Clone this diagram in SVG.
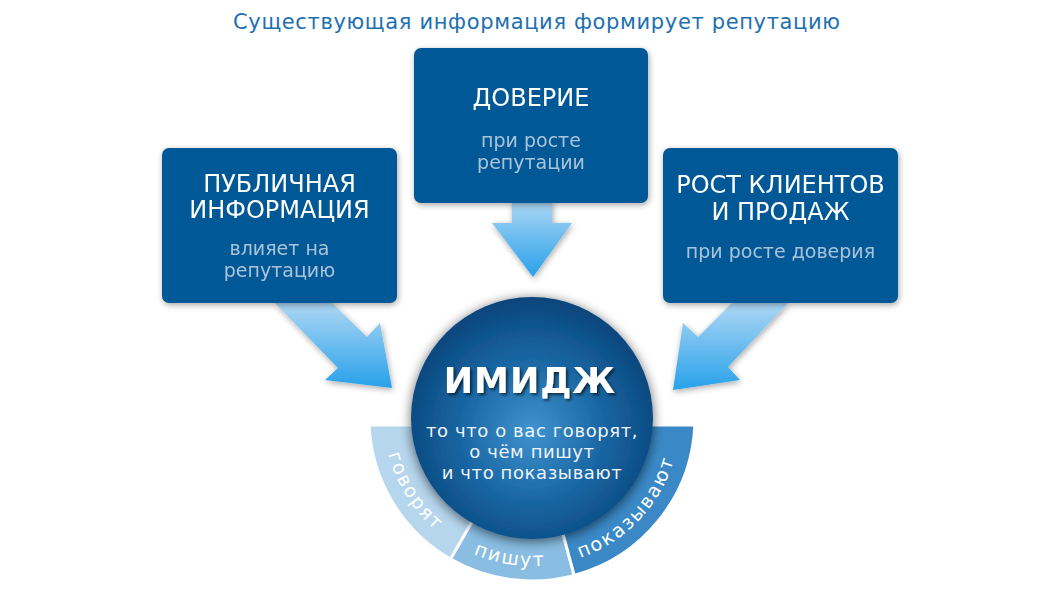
<svg xmlns="http://www.w3.org/2000/svg" width="1060" height="593" viewBox="0 0 1060 593">
  <defs>
    <style>
      .ttl { font-family: "DejaVu Sans", "Liberation Sans", sans-serif; font-size: 21px; fill: #1d70b0; }
      .bt { font-family: "DejaVu Sans", "Liberation Sans", sans-serif; font-size: 24px; fill: #ffffff; text-anchor: middle; }
      .bs { font-family: "DejaVu Sans", "Liberation Sans", sans-serif; font-size: 19px; fill: #a9c3da; text-anchor: middle; }
      .box { fill: #065996; }
      .arrow { fill: url(#arrowGrad); }
      .main { font-family: "DejaVu Sans", "Liberation Sans", sans-serif; font-size: 35px; font-weight: bold; fill: #ffffff; text-anchor: middle; letter-spacing: 1px; }
      .sub { font-family: "DejaVu Sans", "Liberation Sans", sans-serif; font-size: 18px; letter-spacing: 0.6px; fill: #eef4fa; text-anchor: middle; }
      .ring { font-family: "DejaVu Sans", "Liberation Sans", sans-serif; font-size: 19px; fill: #ffffff; letter-spacing: 2px; text-anchor: middle; }
      .seg { stroke: #ffffff; stroke-width: 3; }
    </style>
    <linearGradient id="arrowGrad" x1="0" y1="0" x2="0" y2="1">
      <stop offset="0" stop-color="#aed7f4"/>
      <stop offset="1" stop-color="#27a1ea"/>
    </linearGradient>
    <radialGradient id="circGrad" cx="0.5" cy="0.55" r="0.55">
      <stop offset="0" stop-color="#3f93cf"/>
      <stop offset="0.55" stop-color="#1865a2"/>
      <stop offset="1" stop-color="#0a457b"/>
    </radialGradient>
    <filter id="shadow" x="-20%" y="-20%" width="140%" height="140%">
      <feGaussianBlur in="SourceAlpha" stdDeviation="3"/>
      <feOffset dx="1" dy="2" result="b"/>
      <feComponentTransfer><feFuncA type="linear" slope="0.35"/></feComponentTransfer>
      <feMerge><feMergeNode/><feMergeNode in="SourceGraphic"/></feMerge>
    </filter>
    <filter id="cshadow" x="-20%" y="-20%" width="140%" height="140%">
      <feGaussianBlur in="SourceAlpha" stdDeviation="6"/>
      <feOffset dx="0" dy="2" result="b"/>
      <feComponentTransfer><feFuncA type="linear" slope="0.6"/></feComponentTransfer>
      <feMerge><feMergeNode/><feMergeNode in="SourceGraphic"/></feMerge>
    </filter>
    <filter id="tshadow" x="-10%" y="-30%" width="120%" height="160%">
      <feGaussianBlur in="SourceAlpha" stdDeviation="1.5"/>
      <feOffset dx="1.5" dy="2"/>
      <feComponentTransfer><feFuncA type="linear" slope="0.6"/></feComponentTransfer>
      <feMerge><feMergeNode/><feMergeNode in="SourceGraphic"/></feMerge>
    </filter>
    <path id="ringPath" d="M 384.09,423.17 A 148 148 0 0 0 679.91,423.17"/>
  </defs>

  <rect width="1060" height="593" fill="#ffffff"/>

  <text class="ttl" x="233" y="29" textLength="607" lengthAdjust="spacing">Существующая информация формирует репутацию</text>

  <g id="connectors" filter="url(#shadow)">
    <polygon class="arrow" points="275,303 332,303 367,337 380,323 392,388 325,380 338,368"/>
    <polygon class="arrow" points="512,200 552,200 552,223 572,223 533,277 492,223 512,223"/>
    <polygon class="arrow" points="732,303 788,303 728,367 740,380 673,390 683,323 698,337"/>
  </g>

  <g id="node-public" filter="url(#shadow)">
    <rect class="box" x="162" y="148" width="235" height="155" rx="7"/>
    <text class="bt" x="279.5" y="192">ПУБЛИЧНАЯ</text>
    <text class="bt" x="279.5" y="218">ИНФОРМАЦИЯ</text>
    <text class="bs" x="279.5" y="255">влияет на</text>
    <text class="bs" x="279.5" y="277">репутацию</text>
  </g>

  <g id="node-trust" filter="url(#shadow)">
    <rect class="box" x="414" y="48" width="234" height="155" rx="7"/>
    <text class="bt" x="531" y="106">ДОВЕРИЕ</text>
    <text class="bs" x="531" y="147">при росте</text>
    <text class="bs" x="531" y="169">репутации</text>
  </g>

  <g id="node-growth" filter="url(#shadow)">
    <rect class="box" x="663" y="148" width="235" height="155" rx="7"/>
    <text class="bt" x="780.5" y="193">РОСТ КЛИЕНТОВ</text>
    <text class="bt" x="780.5" y="220">И ПРОДАЖ</text>
    <text class="bs" x="780.5" y="258">при росте доверия</text>
  </g>

  <g id="node-ring">
    <path class="seg" fill="#b6d6ed" d="M 369.15,425 A 163 163 0 0 0 450.5,559.16 L 474.5,517.59 A 115 115 0 0 1 417.21,425 Z"/>
    <path class="seg" fill="#89bde2" d="M 450.5,559.16 A 163 163 0 0 0 574.19,575.45 L 561.76,529.08 A 115 115 0 0 1 474.5,517.59 Z"/>
    <path class="seg" fill="#3a89c6" d="M 574.19,575.45 A 163 163 0 0 0 694.85,425 L 646.79,425 A 115 115 0 0 1 561.76,529.08 Z"/>
    <text class="ring"><textPath href="#ringPath" startOffset="77.4">говорят</textPath></text>
    <text class="ring"><textPath href="#ringPath" startOffset="204.1">пишут</textPath></text>
    <text class="ring"><textPath href="#ringPath" startOffset="347.4">показывают</textPath></text>
  </g>

  <g id="node-image">
    <circle cx="532" cy="418" r="121" fill="url(#circGrad)" filter="url(#cshadow)"/>
    <text class="main" x="530" y="393" filter="url(#tshadow)">ИМИДЖ</text>
    <text class="sub" x="532" y="437">то что о вас говорят,</text>
    <text class="sub" x="532" y="458">о чём пишут</text>
    <text class="sub" x="532" y="479">и что показывают</text>
  </g>
</svg>
